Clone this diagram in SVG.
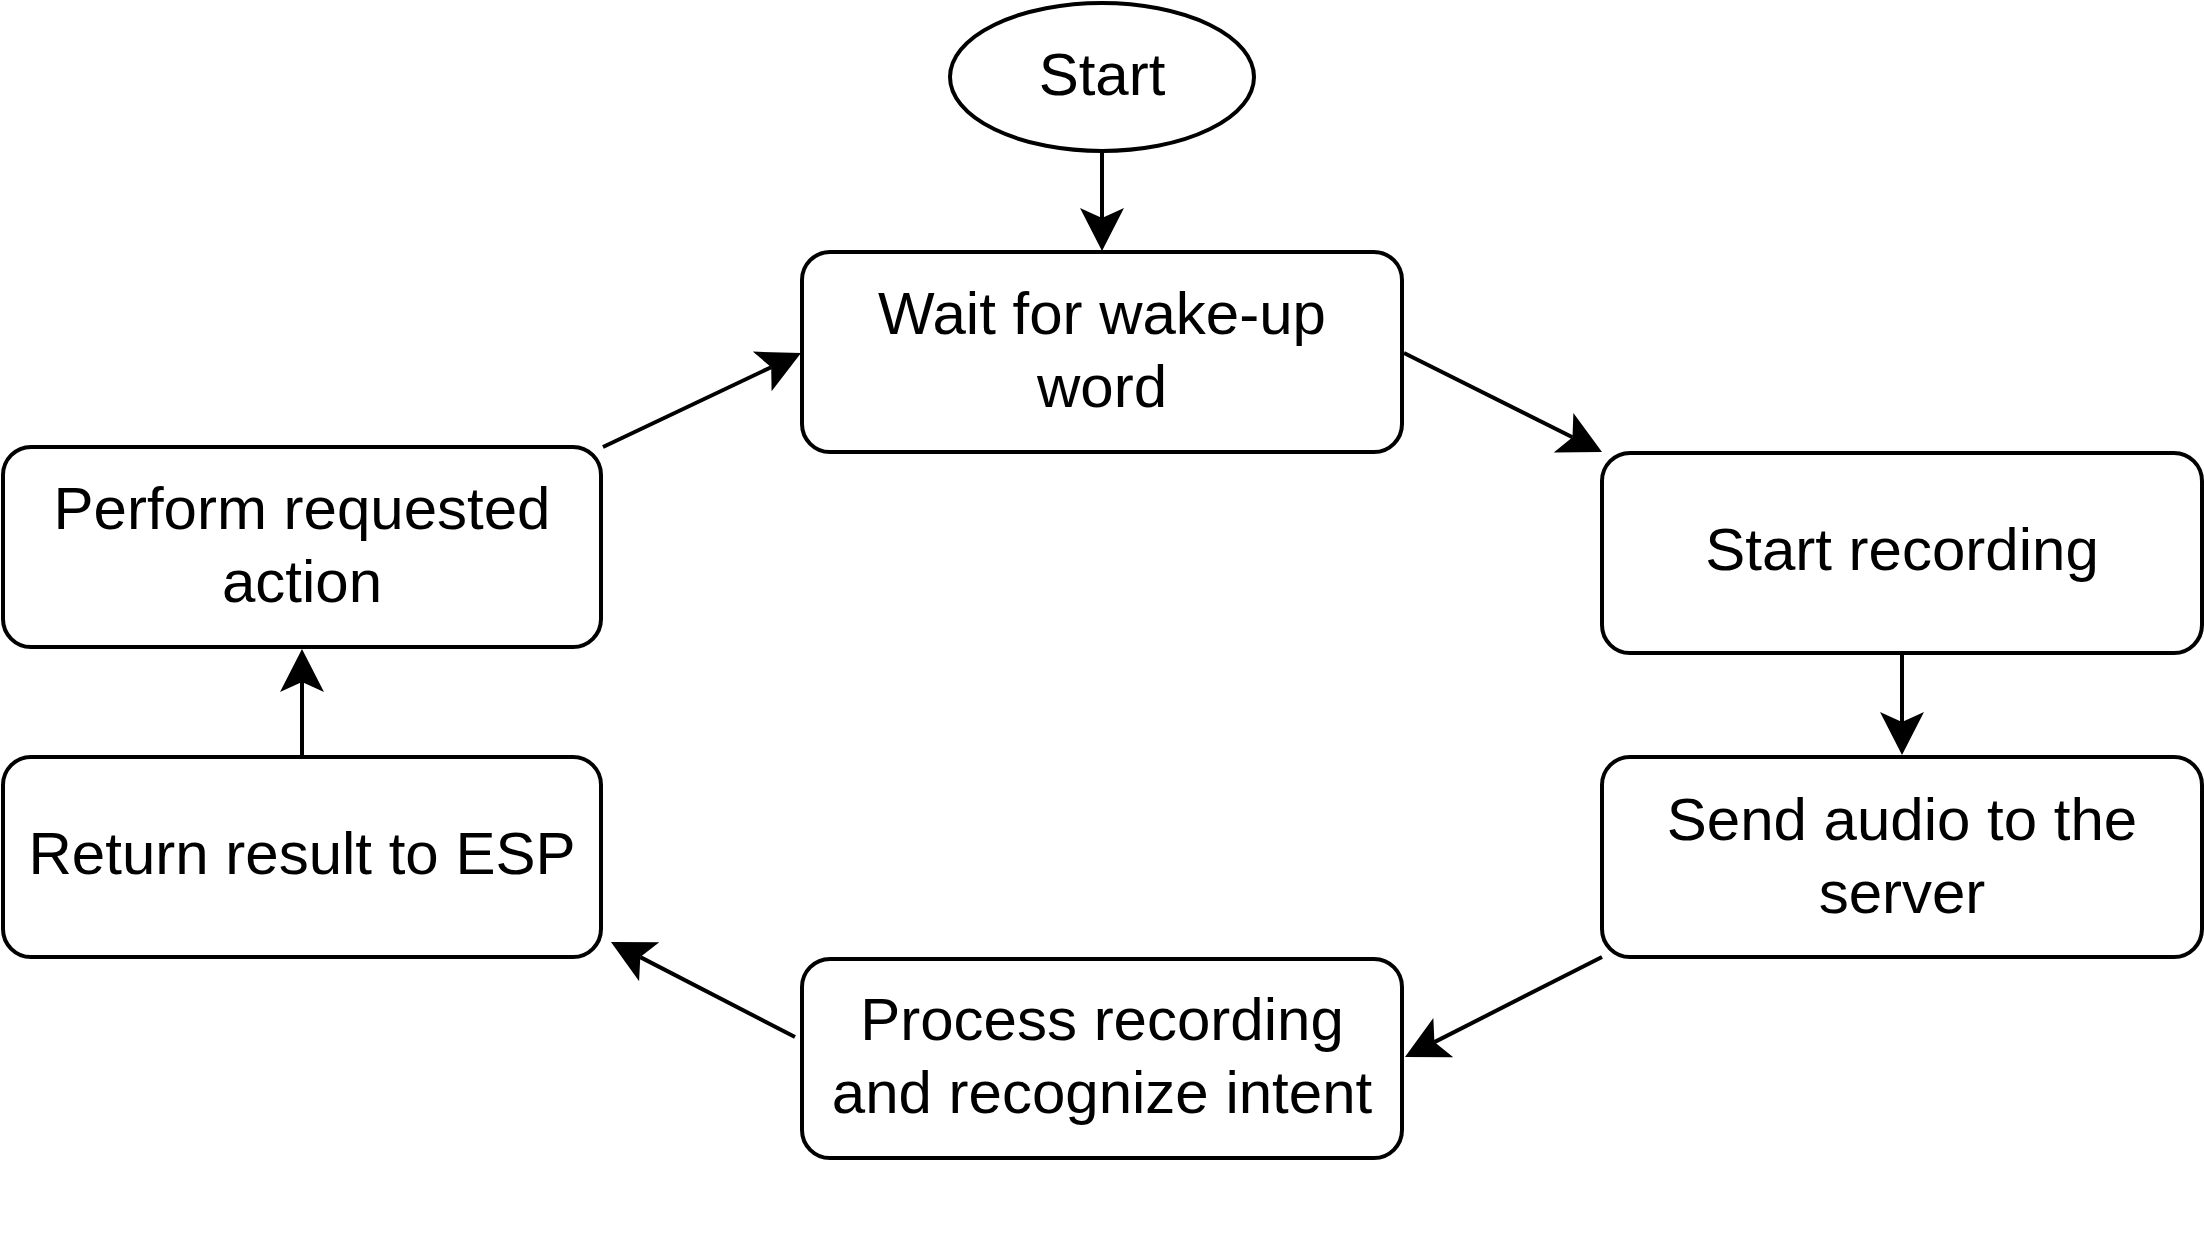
<svg xmlns="http://www.w3.org/2000/svg" width="2204" height="1256" viewBox="0 0 2204 1256">
<style>
.n{fill:#fff;stroke:#000;stroke-width:4}
.t{font-family:"Liberation Sans",Arial,sans-serif;font-size:60px;fill:#000;text-anchor:middle}
.e{fill:none;stroke:#000;stroke-width:4}
</style>
<defs>
<marker id="a" markerUnits="userSpaceOnUse" markerWidth="46" markerHeight="46" viewBox="0 0 46 46" refX="12" refY="23" orient="auto">
<path d="M45,23 L2,1 L12,23 L2,45 Z" fill="#000"/>
</marker>
</defs>
<rect width="2204" height="1256" fill="#fff"/>
<g id="connectors">
<line class="e" x1="1102" y1="152" x2="1102" y2="218" marker-end="url(#a)"/>
<line class="e" x1="1404" y1="353" x2="1572.5" y2="437.2" marker-end="url(#a)"/>
<line class="e" x1="1902" y1="653" x2="1902" y2="722" marker-end="url(#a)"/>
<line class="e" x1="1602" y1="957" x2="1434.4" y2="1042.1" marker-end="url(#a)"/>
<line class="e" x1="795" y1="1037" x2="640.3" y2="957.1" marker-end="url(#a)"/>
<line class="e" x1="302" y1="757" x2="302" y2="682" marker-end="url(#a)"/>
<line class="e" x1="603" y1="447" x2="771.2" y2="367.2" marker-end="url(#a)"/>
</g>
<g id="start">
<ellipse class="n" cx="1102" cy="77" rx="152" ry="74"/>
<text class="t" x="1102" y="95">Start</text>
</g>
<g id="wait">
<rect class="n" x="802" y="252" width="600" height="200" rx="28"/>
<text class="t" x="1102" y="334">Wait for wake-up</text>
<text class="t" x="1102" y="407">word</text>
</g>
<g id="startrec">
<rect class="n" x="1602" y="453" width="600" height="200" rx="28"/>
<text class="t" x="1902" y="570">Start recording</text>
</g>
<g id="send">
<rect class="n" x="1602" y="757" width="600" height="200" rx="28"/>
<text class="t" x="1902" y="840">Send audio to the</text>
<text class="t" x="1902" y="913">server</text>
</g>
<g id="process">
<rect class="n" x="802" y="959" width="600" height="199" rx="28"/>
<text class="t" x="1102" y="1040">Process recording</text>
<text class="t" x="1102" y="1113">and recognize intent</text>
</g>
<g id="return">
<rect class="n" x="3" y="757" width="598" height="200" rx="28"/>
<text class="t" x="302" y="874">Return result to ESP</text>
</g>
<g id="perform">
<rect class="n" x="3" y="447" width="598" height="200" rx="28"/>
<text class="t" x="302" y="529">Perform requested</text>
<text class="t" x="302" y="602">action</text>
</g>
</svg>
